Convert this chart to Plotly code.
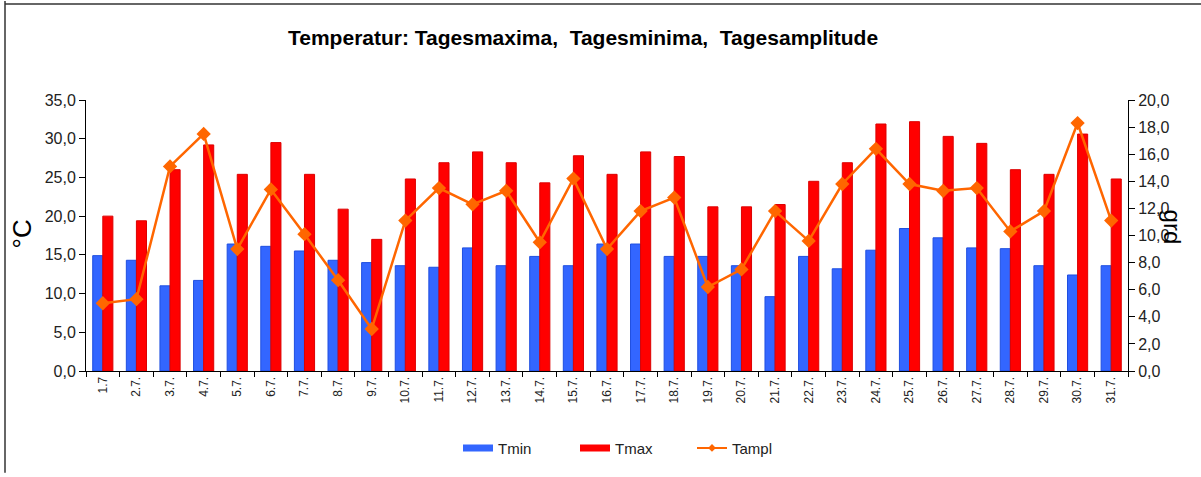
import plotly.graph_objects as go

days = ["1.7"] + [f"{d}.7." for d in range(2, 32)]
tmin = [14.9, 14.3, 11.0, 11.7, 16.4, 16.1, 15.5, 14.3, 14.0, 13.6,
        13.4, 15.9, 13.6, 14.8, 13.6, 16.4, 16.4, 14.8, 14.8, 13.6,
        9.6, 14.8, 13.2, 15.6, 18.4, 17.2, 15.9, 15.8, 13.6, 12.4, 13.6]
tmax = [20.0, 19.4, 26.0, 29.2, 25.4, 29.5, 25.4, 20.9, 17.0, 24.8,
        26.9, 28.3, 26.9, 24.3, 27.8, 25.4, 28.3, 27.7, 21.2, 21.2,
        21.5, 24.5, 26.9, 31.9, 32.2, 30.3, 29.4, 26.0, 25.4, 30.6, 24.8]
tampl = [5.0, 5.3, 15.1, 17.5, 9.0, 13.4, 10.1, 6.7, 3.1, 11.1,
         13.5, 12.3, 13.3, 9.5, 14.2, 9.0, 11.8, 12.8, 6.2, 7.5,
         11.8, 9.6, 13.8, 16.4, 13.8, 13.3, 13.5, 10.3, 11.8, 18.3, 11.1]

title = "Temperatur: Tagesmaxima,  Tagesminima,  Tagesamplitude"
FONT = "Liberation Sans, Arial, sans-serif"
BLUE, RED, ORANGE = "#3366FF", "#FF0000", "#FF6600"

fig = go.Figure()
fig.add_trace(go.Bar(x=days, y=tmin, name="Tmin", showlegend=False,
                     marker=dict(color=BLUE, line=dict(color="#1f4fe0", width=1))))
fig.add_trace(go.Bar(x=days, y=tmax, name="Tmax", showlegend=False,
                     marker=dict(color=RED, line=dict(color="#dd0000", width=1))))
fig.add_trace(go.Scatter(x=days, y=tampl, name="Tampl", yaxis="y2",
                         mode="lines+markers", showlegend=False,
                         line=dict(color=ORANGE, width=2.5),
                         marker=dict(symbol="diamond", size=11, color=ORANGE)))
# legend entries (wide rectangles like the original)
fig.add_trace(go.Scatter(x=[None], y=[None], name="Tmin", mode="lines",
                         line=dict(color=BLUE, width=7)))
fig.add_trace(go.Scatter(x=[None], y=[None], name="Tmax", mode="lines",
                         line=dict(color=RED, width=7)))
fig.add_trace(go.Scatter(x=[None], y=[None], name="Tampl", mode="lines+markers",
                         line=dict(color=ORANGE, width=2),
                         marker=dict(symbol="diamond", size=6, color=ORANGE)))

W, H = 1201, 477
L, R, T, B = 86, 73, 100, 103
pw, ph = W - L - R, H - T - B
def px(x):
    return (x - L) / pw
def py(y):
    return (H - B - y) / ph

fig.update_layout(
    width=W, height=H,
    margin=dict(l=L, r=R, t=T, b=B),
    paper_bgcolor="white", plot_bgcolor="white",
    separators=",.",
    font=dict(family=FONT, color="#222222", size=13),
    barmode="group", bargap=0.4, bargroupgap=0.0,
    showlegend=True,
    legend=dict(orientation="h", x=px(458), xanchor="left", y=py(452), yanchor="middle",
                font=dict(size=15, family=FONT), traceorder="normal",
                entrywidth=72, entrywidthmode="pixels"),
    xaxis=dict(type="category", showgrid=False, showline=True, linecolor="#000000",
               linewidth=1, ticks="outside", ticklen=5, tickcolor="#000000",
               tickson="boundaries", tickangle=-90, tickfont=dict(size=12, family=FONT),
               range=[-0.5, 30.5]),
    yaxis=dict(range=[0, 35], dtick=5, tickformat=".1f", showgrid=False,
               showline=True, linecolor="#000000", linewidth=1,
               ticks="outside", ticklen=6, tickcolor="#000000",
               tickfont=dict(size=16, family=FONT), zeroline=False),
    yaxis2=dict(range=[0, 20], dtick=2, tickformat=".1f", overlaying="y", side="right",
                showgrid=False, showline=True, linecolor="#000000", linewidth=1,
                ticks="outside", ticklen=6, tickcolor="#000000",
                tickfont=dict(size=16, family=FONT), zeroline=False),
    annotations=[
        dict(text="<b>" + title + "</b>", xref="paper", yref="paper",
             x=px(583), y=py(37), xanchor="center", yanchor="middle",
             showarrow=False, font=dict(size=21, family=FONT, color="#000000")),
        dict(text="°C", xref="paper", yref="paper", x=px(22), y=py(236),
             xanchor="center", yanchor="middle", textangle=-90, showarrow=False,
             font=dict(size=26, family=FONT, color="#000000")),
        dict(text="grd", xref="paper", yref="paper", x=px(1172), y=py(228),
             xanchor="center", yanchor="middle", textangle=90, showarrow=False,
             font=dict(size=24, family=FONT, color="#000000")),
    ],
    shapes=[
        dict(type="line", xref="paper", yref="paper", x0=px(5), x1=px(1201),
             y0=py(3), y1=py(3), line=dict(color="#333333", width=1.5)),
        dict(type="line", xref="paper", yref="paper", x0=px(5), x1=px(5),
             y0=py(0), y1=py(477), line=dict(color="#333333", width=1.5)),
    ],
)

fig.write_html("out.html", config={"displayModeBar": False},
               post_script="document.body.style.margin='0';document.body.style.overflow='hidden';")
